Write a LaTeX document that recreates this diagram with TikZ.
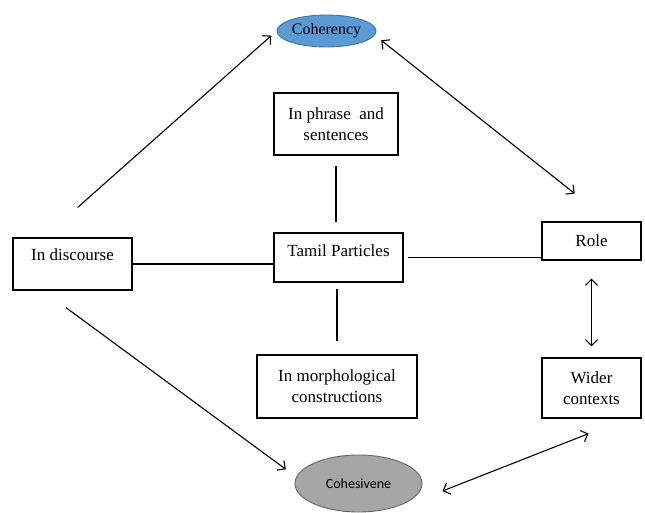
\documentclass[tikz,border=0pt]{standalone}
\usepackage{fontspec}
\setmainfont{Liberation Serif}
\newfontfamily\calibri{Carlito}
\usetikzlibrary{arrows.meta,calc,shapes.geometric}

\tikzset{
  box/.style={draw, line width=1.3pt, inner sep=0pt, align=center,
    font=\fontsize{17}{21}\selectfont},
  link/.style={line width=1.2pt},
  tip/.style={line width=1.1pt, -{Straight Barb[length=6pt,width=12pt]}},
  tips/.style={line width=1.1pt, {Straight Barb[length=6pt,width=12pt]}-{Straight Barb[length=6pt,width=12pt]}}
}

\begin{document}
\begin{tikzpicture}[x=1pt,y=-1pt]
\useasboundingbox (0,0) rectangle (645,513);

% ellipses
\node (coh) [ellipse, draw={rgb,255:red,65;green,113;blue,156}, fill={rgb,255:red,91;green,155;blue,213},
   line width=0.9pt, minimum width=99pt, minimum height=32pt, inner sep=0pt,
   font=\fontsize{16}{18}\selectfont] at (326.5,31) {Coherency};
\node (cohs) [ellipse, draw=black!60, fill=black!35, line width=0.9pt,
   minimum width=127pt, minimum height=57pt, inner sep=0pt,
   font=\calibri\fontsize{14}{16}\selectfont] at (358.5,483.5) {Cohesivene};

% boxes
\node (disc) [box, minimum width=119pt, minimum height=52pt, text depth=18pt] at (72.5,264) {In discourse};
\node (phrase) [box, minimum width=124pt, minimum height=62pt] at (336,124) {In phrase~ and\\sentences};
\node (tamil) [box, minimum width=129pt, minimum height=49pt, text depth=13pt] at (338.5,257.5) {Tamil Particles};
\node (morph) [box, minimum width=160pt, minimum height=63pt] at (337,386.5) {In morphological\\constructions};
\node (role) [box, minimum width=99pt, minimum height=38pt] at (591.5,241) {Role};
\node (wider) [box, minimum width=99pt, minimum height=60pt] at (591.5,388) {Wider\\contexts};

% plain lines
\draw [link] (disc.east) -- (disc.east -| tamil.west);
\draw [link, shorten <=4pt] (tamil.east) -- (tamil.east -| role.west);
\draw [link, shorten <=10pt, shorten >=10pt] (phrase.south) -- (phrase.south |- tamil.north);
\draw [link, shorten <=6pt, shorten >=13pt] (morph.north |- tamil.south) -- (morph.north);

% arrows
\draw [tip, shorten <=45pt, shorten >=7pt] (disc.137.6) -- (coh.west);
\draw [tip, shorten <=28.6pt, shorten >=12.9pt] (disc.222.4) -- (cohs.174.8);
\draw [tips, shorten <=8.2pt, shorten >=44.8pt] (coh.-5) -- (role.47.4);
\draw [tips, shorten <=18pt, shorten >=11pt] (role.south) -- (wider.north);
\draw [tips, shorten >=41pt] ($(cohs.east)+(20,7.5)$) -- (wider.-41);

\end{tikzpicture}
\end{document}
